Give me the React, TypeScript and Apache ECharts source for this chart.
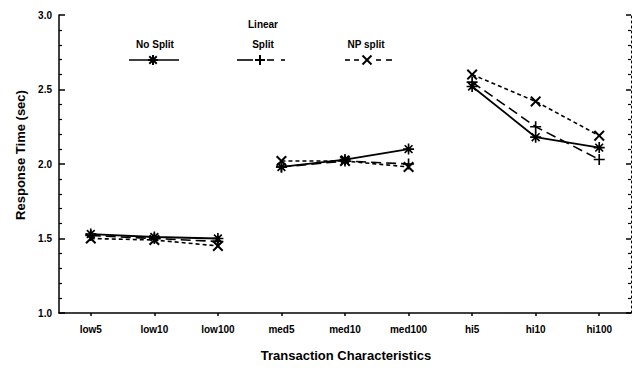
import React, { useEffect, useRef } from 'react';
import * as echarts from 'echarts';

const categories = ['low5', 'low10', 'low100', 'med5', 'med10', 'med100', 'hi5', 'hi10', 'hi100'];
const noSplit = [1.53, 1.51, 1.5, 1.98, 2.03, 2.1, 2.52, 2.18, 2.11];
const linearSplit = [1.52, 1.5, 1.48, 1.98, 2.02, 2.0, 2.55, 2.25, 2.03];
const npSplit = [1.5, 1.49, 1.45, 2.02, 2.02, 1.98, 2.6, 2.42, 2.19];
const groups = [[0, 1, 2], [3, 4, 5], [6, 7, 8]];
const yMin = 1.0;
const yMax = 3.0;
const yStep = 0.5;

const PLUS = 'M-0.15,-1L0.15,-1L0.15,-0.15L1,-0.15L1,0.15L0.15,0.15L0.15,1L-0.15,1L-0.15,0.15L-1,0.15L-1,-0.15L-0.15,-0.15Z';
const CROSS = 'M0.601,-0.813L0.813,-0.601L0.212,0L0.813,0.601L0.601,0.813L0,0.212L-0.601,0.813L-0.813,0.601L-0.212,0L-0.813,-0.601L-0.601,-0.813L0,-0.212Z';
const STAR = PLUS + CROSS;

const FONT = 'Liberation Sans, Arial, sans-serif';

const methods = [
  { name: 'No Split', data: noSplit, symbol: 'path://' + STAR, size: 11, line: 'solid' as any, width: 1.8 },
  { name: 'Linear Split', data: linearSplit, symbol: 'path://' + PLUS, size: 11, line: [10, 5], width: 1.6 },
  { name: 'NP split', data: npSplit, symbol: 'path://' + CROSS, size: 11, line: [4, 3], width: 1.6 },
];

function buildSeries() {
  const out: any[] = [];
  methods.forEach((m) => {
    groups.forEach((g) => {
      out.push({
        type: 'line',
        name: m.name,
        data: categories.map((_, i) => (g.includes(i) ? m.data[i] : '-')),
        symbol: m.symbol,
        symbolSize: m.size,
        showSymbol: true,
        connectNulls: false,
        lineStyle: { color: '#000', width: m.width, type: m.line },
        itemStyle: { color: '#000', borderWidth: 0 },
        emphasis: { disabled: true },
      });
    });
  });
  return out;
}

function seg(x1: number, y1: number, x2: number, y2: number, w = 1.6) {
  return { type: 'line', shape: { x1, y1, x2, y2 }, style: { stroke: '#000', lineWidth: w } };
}
function txt(text: string, x: number, y: number, size: number, rotation = 0) {
  return {
    type: 'text',
    x,
    y,
    rotation,
    style: { text, align: 'center', verticalAlign: 'middle', fontSize: size, fontWeight: 'bold', fontFamily: FONT, fill: '#000' },
  };
}
function starMark(cx: number, cy: number, r = 5) {
  const d = r * 0.75;
  return [seg(cx - r, cy, cx + r, cy, 2), seg(cx, cy - r, cx, cy + r, 2), seg(cx - d, cy - d, cx + d, cy + d, 2), seg(cx - d, cy + d, cx + d, cy - d, 2)];
}
function plusMark(cx: number, cy: number, r = 5) {
  return [seg(cx - r, cy, cx + r, cy, 2), seg(cx, cy - r, cx, cy + r, 2)];
}
function crossMark(cx: number, cy: number, r = 4.5) {
  return [seg(cx - r, cy - r, cx + r, cy + r, 2), seg(cx - r, cy + r, cx + r, cy - r, 2)];
}

export default function App() {
  const ref = useRef<HTMLDivElement>(null);
  useEffect(() => {
    document.body.style.margin = '0';
    const chart = echarts.init(ref.current!, null, { renderer: 'svg' });
    const legendY = 60;
    const graphic: any[] = [
      txt('Response Time (sec)', 20, 155, 13, Math.PI / 2),
      txt('Transaction Characteristics', 346, 355, 13),
      txt('No Split', 155, 44, 10),
      txt('Linear', 263, 24, 10),
      txt('Split', 263, 44, 10),
      txt('NP split', 366, 44, 10),
      seg(129, legendY, 179, legendY),
      ...starMark(153, legendY),
      seg(237, legendY, 253, legendY),
      ...plusMark(260, legendY),
      seg(267, legendY, 274, legendY),
      seg(281, legendY, 285, legendY),
      seg(345, legendY, 350, legendY),
      seg(354, legendY, 359, legendY),
      ...crossMark(367, legendY),
      seg(376, legendY, 381, legendY),
      seg(386, legendY, 392, legendY),
    ];
    chart.setOption({
      animation: false,
      backgroundColor: '#fff',
      grid: { left: 59, right: 1, top: 15, bottom: 55 },
      xAxis: {
        type: 'category',
        data: categories,
        boundaryGap: true,
        axisLine: { show: true, lineStyle: { color: '#000', width: 1.5 } },
        axisTick: { show: true, alignWithLabel: true, length: 3, lineStyle: { color: '#000', width: 1.5 } },
        axisLabel: { color: '#000', fontSize: 10, fontWeight: 'bold', fontFamily: FONT, margin: 11 },
        splitLine: { show: false },
      },
      yAxis: [
        {
          type: 'value',
          min: yMin,
          max: yMax,
          interval: yStep,
          position: 'left',
          axisLine: { show: true, lineStyle: { color: '#000', width: 1.5 } },
          axisTick: { show: true, inside: true, length: 6, lineStyle: { color: '#000', width: 1.5 } },
          minorTick: { show: true, splitNumber: 5, length: 3, lineStyle: { color: '#000', width: 1.2 } },
          axisLabel: { color: '#000', fontSize: 10, fontWeight: 'bold', fontFamily: FONT, margin: 7, formatter: (v: number) => v.toFixed(1) },
          splitLine: { show: false },
        },
        {
          type: 'value',
          min: yMin,
          max: yMax,
          interval: yStep,
          position: 'right',
          axisLine: { show: true, lineStyle: { color: '#000', width: 1, type: [2, 3] } },
          axisTick: { show: true, inside: true, length: 5, lineStyle: { color: '#000', width: 1.5 } },
          minorTick: { show: true, splitNumber: 5, length: 3, lineStyle: { color: '#000', width: 1.2 } },
          axisLabel: { show: false },
          splitLine: { show: false },
        },
      ],
      series: buildSeries(),
      graphic,
    });
    return () => chart.dispose();
  }, []);
  return <div ref={ref} style={{ width: 632, height: 368, background: '#fff' }} />;
}
